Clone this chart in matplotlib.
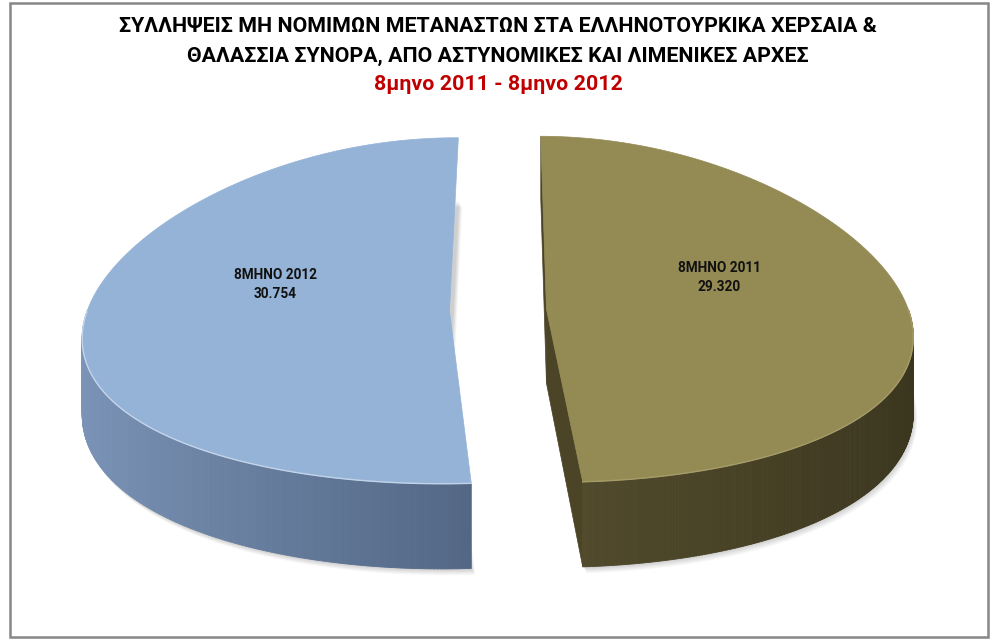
import numpy as np
import matplotlib
matplotlib.use('Agg')
import matplotlib.pyplot as plt
from matplotlib.patches import Polygon, Rectangle
from matplotlib.collections import PolyCollection

# ---- data ----
title_line1 = 'ΣΥΛΛΗΨΕΙΣ ΜΗ ΝΟΜΙΜΩΝ ΜΕΤΑΝΑΣΤΩΝ ΣΤΑ ΕΛΛΗΝΟΤΟΥΡΚΙΚΑ ΧΕΡΣΑΙΑ &'
title_line2 = 'ΘΑΛΑΣΣΙΑ ΣΥΝΟΡΑ, ΑΠΟ ΑΣΤΥΝΟΜΙΚΕΣ ΚΑΙ ΛΙΜΕΝΙΚΕΣ ΑΡΧΕΣ'
subtitle = '8μηνο 2011 - 8μηνο 2012'
categories = ['8MHNO 2011', '8MHNO 2012']
values = [29320, 30754]
value_labels = ['29.320', '30.754']

# ---- style ----
FONT = ['Roboto', 'DejaVu Sans']
top_colors = [np.array([148, 138, 84]) / 255, np.array([149, 179, 215]) / 255]
side_light = [np.array([107, 98, 59]) / 255, np.array([124, 149, 184]) / 255]
side_dark = [np.array([58, 53, 30]) / 255, np.array([47, 63, 89]) / 255]
face_colors = [np.array([76, 68, 39]) / 255, np.array([90, 110, 140]) / 255]
rim_colors = ['#a59c6a', '#c3d4ea']

W, H = 996, 640
fig = plt.figure(figsize=(W / 100, H / 100), dpi=100)
ax = fig.add_axes([0, 0, 1, 1])
ax.set_xlim(0, W)
ax.set_ylim(H, 0)
ax.axis('off')

CX, CY = 498, 310          # screen centre of the pie
RX, RY = 362, 173          # screen radii
DEPTH = 74                 # side height (scaled by perspective)
EXPLODE = 0.134            # explode distance in radius units
START = -86.0              # first slice start angle (deg)
PERSP = 0.15               # horizontal perspective factor


def proj(X, Y, down=0.0):
    f = 1 - PERSP * Y
    return CX + RX * X * f, CY - RY * Y + down * f


total = float(sum(values))
a = START
for i, v in enumerate(values):
    span = 360.0 * v / total
    t0, t1 = a, a + span
    a = t1
    mid = np.radians((t0 + t1) / 2)
    ex, ey = EXPLODE * np.cos(mid), EXPLODE * np.sin(mid)
    ts = np.radians(np.linspace(t0, t1, 400))
    PX, PY = ex + np.cos(ts), ey + np.sin(ts)
    xs, ys = proj(PX, PY)
    xb, yb = proj(PX, PY, DEPTH)
    cx, cy = proj(ex, ey)
    cxb, cyb = proj(ex, ey, DEPTH)

    # soft shadow under the slice
    for k in range(8):
        off = 1 + k
        shp = np.column_stack([np.r_[cxb, xb] + off * 0.5, np.r_[cyb, yb] + off * 0.8])
        ax.add_patch(Polygon(shp, closed=True, facecolor='#000000', edgecolor='none', alpha=0.025, zorder=1))

    # radial faces (viewer slightly right of centre)
    for te, nrm in ((t0, t0 - 90), (t1, t1 + 90)):
        nr = np.radians(nrm)
        if np.cos(nr) < 0 and np.sin(nr) < 0.05:
            tr = np.radians(te)
            rx_, ry_ = proj(ex + np.cos(tr), ey + np.sin(tr))
            rxb, ryb = proj(ex + np.cos(tr), ey + np.sin(tr), DEPTH)
            face = [(cx, cy), (rx_, ry_), (rxb, ryb), (cxb, cyb)]
            ax.add_patch(Polygon(face, closed=True, facecolor=face_colors[i], edgecolor=face_colors[i],
                                 lw=0.5, zorder=2))

    # curved outer side (front part only)
    quads, cols = [], []
    for j in range(len(ts) - 1):
        tm = 0.5 * (ts[j] + ts[j + 1])
        if np.sin(tm) < 0:
            quads.append([(xs[j], ys[j]), (xs[j + 1], ys[j + 1]),
                          (xb[j + 1], yb[j + 1]), (xb[j], yb[j])])
            w = (1 - np.cos(tm)) / 2
            cols.append(side_dark[i] + (side_light[i] - side_dark[i]) * w)
    if quads:
        ax.add_collection(PolyCollection(quads, facecolors=cols, edgecolors=cols, linewidths=0.6, zorder=3))

    # top face
    top = np.column_stack([np.r_[cx, xs], np.r_[cy, ys]])
    ax.add_patch(Polygon(top, closed=True, facecolor=top_colors[i], edgecolor=top_colors[i], lw=0.5, zorder=4))
    front = np.sin(ts) < 0
    ax.plot(np.where(front, xs, np.nan), np.where(front, ys, np.nan), color=rim_colors[i], lw=1.0, zorder=5)

    # label
    lx, ly = proj(ex + 0.48 * np.cos(mid), ey + 0.48 * np.sin(mid))
    ax.text(lx, ly - 29, categories[i] + '\n' + value_labels[i], ha='center', va='center',
            fontsize=9.8, fontweight='bold', color='#111111', family=FONT, linespacing=1.45, zorder=6)

# titles
fig.text(0.5, 1 - 27 / H, title_line1, ha='center', va='center', fontsize=15.4, fontweight='bold',
         color='black', family=FONT)
fig.text(0.5, 1 - 56 / H, title_line2, ha='center', va='center', fontsize=15.4, fontweight='bold',
         color='black', family=FONT)
fig.text(0.5, 1 - 85 / H, subtitle, ha='center', va='center', fontsize=15.4, fontweight='bold',
         color='#C00000', family=FONT)

# chart border
fig.patches.append(Rectangle((10 / W, 3 / H), 978 / W, 634 / H, transform=fig.transFigure,
                             facecolor='none', edgecolor='#878787', lw=1.8, zorder=0))

fig.savefig('out.png', dpi=100)
